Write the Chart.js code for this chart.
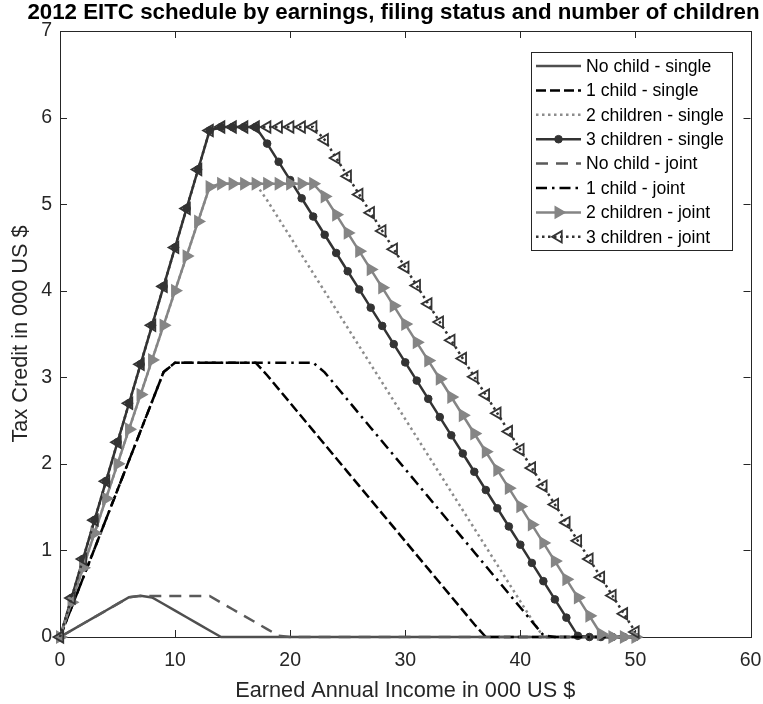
<!DOCTYPE html>
<html>
<head>
<meta charset="utf-8">
<title>2012 EITC schedule</title>
<script src="https://cdn.jsdelivr.net/npm/chart.js@4.4.1/dist/chart.umd.min.js"></script>
<style>
  html, body { margin: 0; padding: 0; background: #fff; }
  #wrap { width: 763px; height: 704px; }
</style>
</head>
<body>
<div id="wrap"><canvas id="eitc" width="763" height="704"></canvas></div>
<script>
// earned annual income, in 000 US $
const incomeK = [0, 1, 2, 3, 4, 5, 6, 7, 8, 9, 10, 11, 12, 13, 14, 15, 16, 17, 18, 19, 20,
  21, 22, 23, 24, 25, 26, 27, 28, 29, 30, 31, 32, 33, 34, 35, 36, 37, 38, 39, 40,
  41, 42, 43, 44, 45, 46, 47, 48, 49, 50];

// tax credit, in 000 US $
const noChildSingle = [0, 0.0765, 0.153, 0.2295, 0.306, 0.3825, 0.459, 0.475, 0.4574, 0.3809,
  0.3044, 0.2279, 0.1514, 0.0749, 0, 0, 0, 0, 0, 0, 0,
  0, 0, 0, 0, 0, 0, 0, 0, 0, 0, 0, 0, 0, 0, 0, 0, 0, 0, 0, 0,
  0, 0, 0, 0, 0, 0, 0, 0, 0, 0];
const oneChildSingle = [0, 0.34, 0.68, 1.02, 1.36, 1.70, 2.04, 2.38, 2.72, 3.06,
  3.169, 3.169, 3.169, 3.169, 3.169, 3.169, 3.169, 3.169, 3.0236, 2.8638, 2.7040,
  2.5442, 2.3844, 2.2246, 2.0648, 1.9050, 1.7452, 1.5854, 1.4256, 1.2658, 1.1060,
  0.9462, 0.7864, 0.6266, 0.4668, 0.3070, 0.1472, 0, 0, 0, 0,
  0, 0, 0, 0, 0, 0, 0, 0, 0, 0];
const twoChildSingle = [0, 0.4, 0.8, 1.2, 1.6, 2.0, 2.4, 2.8, 3.2, 3.6,
  4.0, 4.4, 4.8, 5.2, 5.236, 5.236, 5.236, 5.236, 5.0444, 4.8338, 4.6232,
  4.4126, 4.2020, 3.9914, 3.7808, 3.5702, 3.3596, 3.1490, 2.9384, 2.7278, 2.5172,
  2.3066, 2.0960, 1.8854, 1.6748, 1.4642, 1.2536, 1.0430, 0.8324, 0.6218, 0.4112,
  0.2006, 0, 0, 0, 0, 0, 0, 0, 0, 0];
const threeChildSingle = [0, 0.45, 0.9, 1.35, 1.8, 2.25, 2.7, 3.15, 3.6, 4.05,
  4.5, 4.95, 5.4, 5.85, 5.891, 5.891, 5.891, 5.891, 5.6994, 5.4888, 5.2782,
  5.0676, 4.8570, 4.6464, 4.4358, 4.2252, 4.0146, 3.8040, 3.5934, 3.3828, 3.1722,
  2.9616, 2.7510, 2.5404, 2.3298, 2.1192, 1.9086, 1.6980, 1.4874, 1.2768, 1.0662,
  0.8556, 0.6450, 0.4344, 0.2238, 0.0132, 0, 0, 0, 0, 0];
const noChildJoint = [0, 0.0765, 0.153, 0.2295, 0.306, 0.3825, 0.459, 0.475, 0.475, 0.475,
  0.475, 0.475, 0.475, 0.4735, 0.3970, 0.3205, 0.2440, 0.1675, 0.0910, 0.0145, 0,
  0, 0, 0, 0, 0, 0, 0, 0, 0, 0, 0, 0, 0, 0, 0, 0, 0, 0, 0, 0,
  0, 0, 0, 0, 0, 0, 0, 0, 0, 0];
const oneChildJoint = [0, 0.34, 0.68, 1.02, 1.36, 1.70, 2.04, 2.38, 2.72, 3.06,
  3.169, 3.169, 3.169, 3.169, 3.169, 3.169, 3.169, 3.169, 3.169, 3.169, 3.169,
  3.169, 3.169, 3.0571, 2.8973, 2.7375, 2.5777, 2.4179, 2.2581, 2.0983, 1.9385,
  1.7787, 1.6189, 1.4591, 1.2993, 1.1395, 0.9797, 0.8199, 0.6601, 0.5003, 0.3405,
  0.1807, 0.0209, 0, 0, 0, 0, 0, 0, 0, 0];
const twoChildJoint = [0, 0.4, 0.8, 1.2, 1.6, 2.0, 2.4, 2.8, 3.2, 3.6,
  4.0, 4.4, 4.8, 5.2, 5.236, 5.236, 5.236, 5.236, 5.236, 5.236, 5.236,
  5.236, 5.236, 5.0886, 4.8780, 4.6674, 4.4568, 4.2462, 4.0356, 3.8250, 3.6144,
  3.4038, 3.1932, 2.9826, 2.7720, 2.5614, 2.3508, 2.1402, 1.9296, 1.7190, 1.5084,
  1.2978, 1.0872, 0.8766, 0.6660, 0.4554, 0.2448, 0.0342, 0, 0, 0];
const threeChildJoint = [0, 0.45, 0.9, 1.35, 1.8, 2.25, 2.7, 3.15, 3.6, 4.05,
  4.5, 4.95, 5.4, 5.85, 5.891, 5.891, 5.891, 5.891, 5.891, 5.891, 5.891,
  5.891, 5.891, 5.7436, 5.5330, 5.3224, 5.1118, 4.9012, 4.6906, 4.4800, 4.2694,
  4.0588, 3.8482, 3.6376, 3.4270, 3.2164, 3.0058, 2.7952, 2.5846, 2.3740, 2.1634,
  1.9528, 1.7422, 1.5316, 1.3210, 1.1104, 0.8998, 0.6892, 0.4786, 0.2680, 0.0574];

const seriesNames = ['No child - single', '1 child - single', '2 children - single', '3 children - single',
  'No child - joint', '1 child - joint', '2 children - joint', '3 children - joint'];
const seriesValues = [noChildSingle, oneChildSingle, twoChildSingle, threeChildSingle,
  noChildJoint, oneChildJoint, twoChildJoint, threeChildJoint];

const xTicks = [0, 10, 20, 30, 40, 50, 60];
const yTicks = [0, 1, 2, 3, 4, 5, 6, 7];

const chartTitle = '2012 EITC schedule by earnings, filing status and number of children';

// line look for each series, same order as the names
const looks = [
  { color: '#4f4f4f', dash: [], marker: null },
  { color: '#000000', dash: [10, 4], marker: null },
  { color: '#8c8c8c', dash: [2.5, 3.5], marker: null },
  { color: '#333333', dash: [], marker: 'circle' },
  { color: '#5a5a5a', dash: [12, 8], marker: null },
  { color: '#000000', dash: [11, 5, 2.5, 5], marker: null },
  { color: '#858585', dash: [], marker: 'right' },
  { color: '#333333', dash: [2.5, 3.5], marker: 'left' }
];

const FONT = "'Liberation Sans', Arial, Helvetica, sans-serif";
const INK = '#262626';

function markerProps(look) {
  if (look.marker === 'circle') {
    return { pointStyle: 'circle', pointRotation: 0, pointRadius: 3.8, pointBorderWidth: 1,
      pointBackgroundColor: look.color, pointBorderColor: look.color };
  }
  if (look.marker === 'right') {
    return { pointStyle: 'triangle', pointRotation: 90, pointRadius: 6.5, pointBorderWidth: 1.5,
      pointBackgroundColor: look.color, pointBorderColor: look.color };
  }
  if (look.marker === 'left') {
    return { pointStyle: 'triangle', pointRotation: -90, pointRadius: 6.5, pointBorderWidth: 1.8,
      pointBackgroundColor: 'rgba(0,0,0,0)', pointBorderColor: look.color };
  }
  return { pointRadius: 0 };
}

const datasets = seriesNames.map((name, i) => Object.assign({
  label: name,
  data: incomeK.map((x, k) => ({ x: x, y: seriesValues[i][k] })),
  borderColor: looks[i].color,
  borderWidth: 2.5,
  borderDash: looks[i].dash,
  borderCapStyle: 'butt',
  tension: 0,
  fill: false,
  clip: false,
  order: seriesNames.length - i   // later series on top, like the original
}, markerProps(looks[i])));

// title, a little left of the plot centre so it fits the figure
const titleText = {
  id: 'titleText',
  afterDraw(chart) {
    const { ctx } = chart;
    ctx.save();
    ctx.fillStyle = '#000000';
    ctx.font = 'bold 22.3px ' + FONT;
    ctx.textAlign = 'center';
    ctx.textBaseline = 'middle';
    ctx.fillText(chartTitle, 393.5, 13);
    ctx.restore();
  }
};

// box around the plot with inward ticks on all four sides
const axesBox = {
  id: 'axesBox',
  beforeDatasetsDraw(chart) {
    const { ctx, chartArea: a, scales: { x, y } } = chart;
    const tl = 7;
    ctx.save();
    ctx.strokeStyle = INK;
    ctx.lineWidth = 1;
    ctx.strokeRect(a.left + 0.5, a.top + 0.5, Math.round(a.right - a.left), Math.round(a.bottom - a.top));
    ctx.beginPath();
    x.ticks.forEach(t => {
      const px = Math.round(x.getPixelForValue(t.value)) + 0.5;
      ctx.moveTo(px, a.bottom); ctx.lineTo(px, a.bottom - tl);
      ctx.moveTo(px, a.top); ctx.lineTo(px, a.top + tl);
    });
    y.ticks.forEach(t => {
      const py = Math.round(y.getPixelForValue(t.value)) + 0.5;
      ctx.moveTo(a.left, py); ctx.lineTo(a.left + tl, py);
      ctx.moveTo(a.right, py); ctx.lineTo(a.right - tl, py);
    });
    ctx.stroke();
    ctx.restore();
  }
};

function drawMarker(ctx, ds, cx, cy) {
  if (!ds.pointRadius) return;
  ctx.setLineDash([]);
  ctx.fillStyle = ds.pointBackgroundColor;
  ctx.strokeStyle = ds.pointBorderColor;
  ctx.lineWidth = ds.pointBorderWidth;
  Chart.helpers.drawPoint(ctx, {
    pointStyle: ds.pointStyle, rotation: ds.pointRotation,
    radius: ds.pointRadius, borderWidth: ds.pointBorderWidth
  }, cx, cy);
}

// boxed legend in the upper right, line sample with marker then the name
const boxLegend = {
  id: 'boxLegend',
  afterDraw(chart) {
    const { ctx, chartArea: a } = chart;
    const w = 201, h = 198, rowH = 24.4;
    const left = Math.round(a.right - 19 - w), top = Math.round(a.top + 21);
    ctx.save();
    ctx.fillStyle = '#ffffff';
    ctx.fillRect(left, top, w, h);
    ctx.strokeStyle = INK;
    ctx.lineWidth = 1;
    ctx.strokeRect(left + 0.5, top + 0.5, w, h);
    chart.data.datasets.forEach((ds, i) => {
      const cy = top + 14 + i * rowH;
      ctx.beginPath();
      ctx.strokeStyle = ds.borderColor;
      ctx.lineWidth = ds.borderWidth;
      ctx.lineCap = 'butt';
      ctx.setLineDash(ds.borderDash);
      ctx.moveTo(left + 5, cy);
      ctx.lineTo(left + 50, cy);
      ctx.stroke();
      drawMarker(ctx, ds, left + 27.5, cy);
      ctx.fillStyle = '#000000';
      ctx.font = '17.6px ' + FONT;
      ctx.textBaseline = 'middle';
      ctx.textAlign = 'left';
      ctx.fillText(ds.label, left + 55, cy + 1);
    });
    ctx.restore();
  }
};

new Chart(document.getElementById('eitc'), {
  type: 'line',
  data: { datasets: datasets },
  options: {
    responsive: false,
    animation: false,
    devicePixelRatio: 1,
    layout: { padding: { left: 0, right: 12.5, top: 31, bottom: 0 } },
    plugins: {
      legend: { display: false },
      tooltip: { enabled: false },
      title: { display: false }
    },
    scales: {
      x: {
        type: 'linear',
        min: 0, max: 60,
        afterBuildTicks: s => { s.ticks = xTicks.map(v => ({ value: v })); },
        afterFit: s => { s.height = 67; s.paddingLeft = 0; s.paddingRight = 0; },
        grid: { display: false, drawTicks: false },
        border: { display: false },
        ticks: { color: INK, padding: 12, font: { family: FONT, size: 19.5 } },
        title: {
          display: true, text: 'Earned Annual Income in 000 US $', color: INK,
          font: { family: FONT, size: 21.7 }, padding: { top: 0, bottom: 0 }
        }
      },
      y: {
        type: 'linear',
        min: 0, max: 7,
        afterBuildTicks: s => { s.ticks = yTicks.map(v => ({ value: v })); },
        afterFit: s => { s.width = 60; s.paddingTop = 0; s.paddingBottom = 0; },
        grid: { display: false, drawTicks: false },
        border: { display: false },
        ticks: { color: INK, padding: 8, font: { family: FONT, size: 19.5 } },
        title: {
          display: true, text: 'Tax Credit in 000 US $', color: INK,
          font: { family: FONT, size: 21.7 }, padding: { top: 8, bottom: 0 }
        }
      }
    }
  },
  plugins: [axesBox, boxLegend, titleText]
});
</script>
</body>
</html>
